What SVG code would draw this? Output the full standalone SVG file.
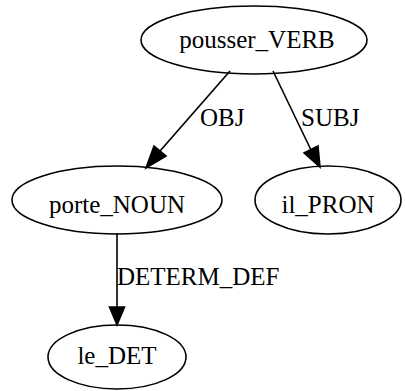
<svg xmlns="http://www.w3.org/2000/svg" width="405" height="391" viewBox="0 0 405 391">
<style>
.node ellipse{fill:none;stroke:#000;stroke-width:1.6}
text{font-family:"Liberation Serif","Times New Roman",serif;font-size:25px;fill:#000}
.node text{text-anchor:middle}
.edge path{fill:none;stroke:#000;stroke-width:1.6}
.edge polygon{fill:#000;stroke:#000;stroke-width:1.6}
</style>
<rect width="405" height="391" fill="#fff"/>
<g id="edges">
<g class="edge" id="e_obj">
<path d="M230,71 L160,151"/>
<polygon points="166,156 146,168 154,146"/>
<text x="200" y="126">OBJ</text>
</g>
<g class="edge" id="e_subj">
<path d="M273,71 L311,150"/>
<polygon points="304,153 320,167 318,146"/>
<text x="301" y="126">SUBJ</text>
</g>
<g class="edge" id="e_det">
<path d="M117,233 L117,307"/>
<polygon points="109.5,307 117,325 124.5,307"/>
<text x="117" y="285">DETERM_DEF</text>
</g>
</g>
<g class="node" id="pousser_VERB">
<ellipse cx="254" cy="40" rx="113" ry="34"/>
<text x="257" y="48">pousser_VERB</text>
</g>
<g class="node" id="porte_NOUN">
<ellipse cx="117" cy="200" rx="105" ry="34"/>
<text x="117" y="213">porte_NOUN</text>
</g>
<g class="node" id="il_PRON">
<ellipse cx="328" cy="200" rx="73" ry="34"/>
<text x="328" y="213">il_PRON</text>
</g>
<g class="node" id="le_DET">
<ellipse cx="117" cy="357" rx="69" ry="32"/>
<text x="117" y="364">le_DET</text>
</g>
</svg>
